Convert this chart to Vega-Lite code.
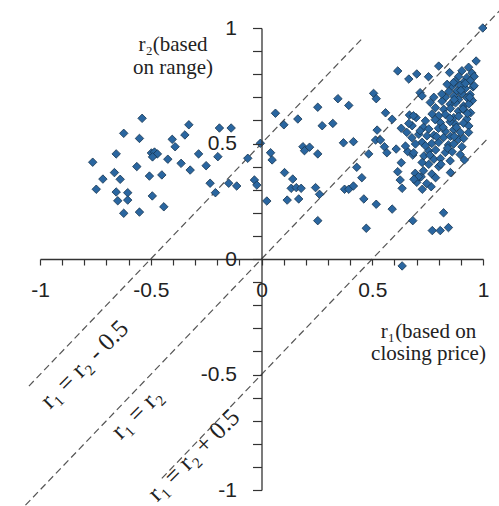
{
  "$schema": "https://vega.github.io/schema/vega-lite/v6.json",
  "width": 443,
  "height": 462,
  "autosize": {"type": "none"},
  "padding": {"left": 40, "top": 28, "right": 16, "bottom": 16},
  "background": "white",
  "config": {"view": {"stroke": null}, "axis": {"grid": false, "labelOverlap": false, "labelFlush": false, "labelBound": false}},
  "resolve": {"scale": {"x": "independent", "y": "independent"}, "axis": {"x": "independent", "y": "independent"}},
  "datasets": {
    "lines": [
      {"x1": -1.1, "y1": -1.1, "x2": 1.08, "y2": 1.08},
      {"x1": -1.05, "y1": -0.55, "x2": 0.45, "y2": 0.95},
      {"x1": -0.45, "y1": -0.95, "x2": 1.02, "y2": 0.52}
    ],
    "labels": [
      {"lx": -0.8, "ly": -0.455, "txt": "r₁ = r₂ - 0.5"},
      {"lx": -0.564, "ly": -0.667, "txt": "r₁ = r₂"},
      {"lx": -0.307, "ly": -0.848, "txt": "r₁ = r₂ + 0.5"}
    ],
    "points": [
      {"r1": -0.539, "r2": 0.609}, {"r1": -0.622, "r2": 0.544}, {"r1": -0.551, "r2": 0.522}, {"r1": -0.328, "r2": 0.581},
      {"r1": -0.346, "r2": 0.537}, {"r1": -0.403, "r2": 0.518}, {"r1": -0.39, "r2": 0.486}, {"r1": -0.19, "r2": 0.567},
      {"r1": -0.137, "r2": 0.567}, {"r1": -0.656, "r2": 0.455}, {"r1": -0.497, "r2": 0.459}, {"r1": -0.483, "r2": 0.463},
      {"r1": -0.47, "r2": 0.455}, {"r1": -0.492, "r2": 0.442}, {"r1": -0.423, "r2": 0.432}, {"r1": -0.363, "r2": 0.414},
      {"r1": -0.284, "r2": 0.455}, {"r1": -0.197, "r2": 0.443}, {"r1": -0.25, "r2": 0.404}, {"r1": -0.322, "r2": 0.385},
      {"r1": -0.062, "r2": 0.436}, {"r1": -0.762, "r2": 0.419}, {"r1": -0.563, "r2": 0.4}, {"r1": -0.664, "r2": 0.374},
      {"r1": -0.716, "r2": 0.346}, {"r1": -0.638, "r2": 0.345}, {"r1": -0.506, "r2": 0.359}, {"r1": -0.45, "r2": 0.364},
      {"r1": -0.746, "r2": 0.302}, {"r1": -0.656, "r2": 0.29}, {"r1": -0.604, "r2": 0.287}, {"r1": -0.649, "r2": 0.252},
      {"r1": -0.604, "r2": 0.255}, {"r1": -0.493, "r2": 0.273}, {"r1": -0.232, "r2": 0.328}, {"r1": -0.148, "r2": 0.328},
      {"r1": -0.112, "r2": 0.316}, {"r1": -0.208, "r2": 0.287}, {"r1": -0.441, "r2": 0.226}, {"r1": -0.622, "r2": 0.198},
      {"r1": -0.551, "r2": 0.203},
      {"r1": 0.999, "r2": 1.0}, {"r1": 0.969, "r2": 0.857}, {"r1": 0.8, "r2": 0.835}, {"r1": 0.615, "r2": 0.814},
      {"r1": 0.701, "r2": 0.801}, {"r1": 0.665, "r2": 0.779}, {"r1": 0.754, "r2": 0.789}, {"r1": 0.849, "r2": 0.807},
      {"r1": 0.345, "r2": 0.694}, {"r1": 0.506, "r2": 0.717}, {"r1": 0.518, "r2": 0.694}, {"r1": 0.254, "r2": 0.657},
      {"r1": 0.394, "r2": 0.665}, {"r1": 0.063, "r2": 0.631}, {"r1": 0.164, "r2": 0.606}, {"r1": 0.101, "r2": 0.581},
      {"r1": 0.274, "r2": 0.577}, {"r1": 0.322, "r2": 0.587}, {"r1": 0.56, "r2": 0.633}, {"r1": 0.59, "r2": 0.605},
      {"r1": -0.005, "r2": 0.501}, {"r1": 0.187, "r2": 0.486}, {"r1": 0.217, "r2": 0.484}, {"r1": 0.194, "r2": 0.469},
      {"r1": 0.254, "r2": 0.455}, {"r1": 0.37, "r2": 0.503}, {"r1": 0.415, "r2": 0.508}, {"r1": 0.041, "r2": 0.46},
      {"r1": 0.048, "r2": 0.429}, {"r1": -0.032, "r2": 0.342}, {"r1": -0.021, "r2": 0.32}, {"r1": 0.104, "r2": 0.374},
      {"r1": 0.141, "r2": 0.346}, {"r1": 0.134, "r2": 0.306}, {"r1": 0.157, "r2": 0.309}, {"r1": 0.179, "r2": 0.306},
      {"r1": 0.024, "r2": 0.251}, {"r1": 0.116, "r2": 0.255}, {"r1": 0.168, "r2": 0.26}, {"r1": 0.244, "r2": 0.309},
      {"r1": 0.262, "r2": 0.28}, {"r1": 0.254, "r2": 0.166}, {"r1": 0.375, "r2": 0.302}, {"r1": 0.394, "r2": 0.302},
      {"r1": 0.415, "r2": 0.316}, {"r1": 0.43, "r2": 0.397}, {"r1": 0.453, "r2": 0.352}, {"r1": 0.484, "r2": 0.455},
      {"r1": 0.462, "r2": 0.26}, {"r1": 0.518, "r2": 0.237}, {"r1": 0.59, "r2": 0.216}, {"r1": 0.473, "r2": 0.133},
      {"r1": 0.683, "r2": 0.166}, {"r1": 0.771, "r2": 0.123}, {"r1": 0.807, "r2": 0.123}, {"r1": 0.844, "r2": 0.136},
      {"r1": 0.822, "r2": 0.2}, {"r1": 0.853, "r2": 0.374}, {"r1": 0.916, "r2": 0.429}, {"r1": 0.522, "r2": 0.558},
      {"r1": 0.515, "r2": 0.515}, {"r1": 0.537, "r2": 0.515}, {"r1": 0.555, "r2": 0.486}, {"r1": 0.566, "r2": 0.46},
      {"r1": 0.608, "r2": 0.476}, {"r1": 0.631, "r2": 0.566}, {"r1": 0.668, "r2": 0.623}, {"r1": 0.631, "r2": 0.417},
      {"r1": 0.615, "r2": 0.378}, {"r1": 0.626, "r2": 0.342}, {"r1": 0.635, "r2": 0.306}, {"r1": 0.694, "r2": 0.371},
      {"r1": 0.698, "r2": 0.342}, {"r1": 0.721, "r2": 0.356}, {"r1": 0.726, "r2": 0.302}, {"r1": 0.766, "r2": 0.313},
      {"r1": 0.66, "r2": 0.465}, {"r1": 0.683, "r2": 0.45}, {"r1": 0.635, "r2": -0.03},
      {"r1": 0.935, "r2": 0.83}, {"r1": 0.905, "r2": 0.815}, {"r1": 0.95, "r2": 0.805}, {"r1": 0.89, "r2": 0.79},
      {"r1": 0.927, "r2": 0.785}, {"r1": 0.96, "r2": 0.79}, {"r1": 0.875, "r2": 0.77}, {"r1": 0.912, "r2": 0.765},
      {"r1": 0.942, "r2": 0.772}, {"r1": 0.86, "r2": 0.748}, {"r1": 0.897, "r2": 0.752}, {"r1": 0.92, "r2": 0.738},
      {"r1": 0.955, "r2": 0.745}, {"r1": 0.846, "r2": 0.725}, {"r1": 0.883, "r2": 0.728}, {"r1": 0.905, "r2": 0.715},
      {"r1": 0.942, "r2": 0.712}, {"r1": 0.83, "r2": 0.7}, {"r1": 0.868, "r2": 0.705}, {"r1": 0.89, "r2": 0.69},
      {"r1": 0.928, "r2": 0.698}, {"r1": 0.952, "r2": 0.686}, {"r1": 0.815, "r2": 0.683}, {"r1": 0.852, "r2": 0.67},
      {"r1": 0.876, "r2": 0.676}, {"r1": 0.912, "r2": 0.662}, {"r1": 0.936, "r2": 0.671}, {"r1": 0.785, "r2": 0.655},
      {"r1": 0.823, "r2": 0.648}, {"r1": 0.853, "r2": 0.652}, {"r1": 0.889, "r2": 0.64}, {"r1": 0.913, "r2": 0.646},
      {"r1": 0.944, "r2": 0.633}, {"r1": 0.77, "r2": 0.628}, {"r1": 0.8, "r2": 0.62}, {"r1": 0.83, "r2": 0.626},
      {"r1": 0.868, "r2": 0.612}, {"r1": 0.89, "r2": 0.618}, {"r1": 0.927, "r2": 0.606}, {"r1": 0.74, "r2": 0.598},
      {"r1": 0.784, "r2": 0.603}, {"r1": 0.808, "r2": 0.59}, {"r1": 0.852, "r2": 0.594}, {"r1": 0.876, "r2": 0.583},
      {"r1": 0.912, "r2": 0.588}, {"r1": 0.936, "r2": 0.576}, {"r1": 0.731, "r2": 0.57}, {"r1": 0.755, "r2": 0.563},
      {"r1": 0.799, "r2": 0.566}, {"r1": 0.83, "r2": 0.553}, {"r1": 0.868, "r2": 0.56}, {"r1": 0.898, "r2": 0.548},
      {"r1": 0.935, "r2": 0.548}, {"r1": 0.71, "r2": 0.54}, {"r1": 0.747, "r2": 0.533}, {"r1": 0.778, "r2": 0.536},
      {"r1": 0.822, "r2": 0.526}, {"r1": 0.853, "r2": 0.531}, {"r1": 0.889, "r2": 0.518}, {"r1": 0.913, "r2": 0.522},
      {"r1": 0.725, "r2": 0.505}, {"r1": 0.769, "r2": 0.5}, {"r1": 0.8, "r2": 0.505}, {"r1": 0.844, "r2": 0.494},
      {"r1": 0.868, "r2": 0.498}, {"r1": 0.905, "r2": 0.486}, {"r1": 0.755, "r2": 0.468}, {"r1": 0.786, "r2": 0.472},
      {"r1": 0.83, "r2": 0.461}, {"r1": 0.861, "r2": 0.464}, {"r1": 0.897, "r2": 0.452}, {"r1": 0.733, "r2": 0.446},
      {"r1": 0.778, "r2": 0.432}, {"r1": 0.808, "r2": 0.435}, {"r1": 0.852, "r2": 0.425}, {"r1": 0.755, "r2": 0.41},
      {"r1": 0.8, "r2": 0.4}, {"r1": 0.725, "r2": 0.418}, {"r1": 0.769, "r2": 0.368}, {"r1": 0.786, "r2": 0.352},
      {"r1": 0.701, "r2": 0.332}, {"r1": 0.746, "r2": 0.327}, {"r1": 0.716, "r2": 0.555}, {"r1": 0.68, "r2": 0.577},
      {"r1": 0.698, "r2": 0.612}, {"r1": 0.716, "r2": 0.72}, {"r1": 0.725, "r2": 0.706}, {"r1": 0.762, "r2": 0.678},
      {"r1": 0.778, "r2": 0.7}, {"r1": 0.814, "r2": 0.714}, {"r1": 0.838, "r2": 0.756}, {"r1": 0.867, "r2": 0.764},
      {"r1": 0.686, "r2": 0.62}, {"r1": 0.665, "r2": 0.587}, {"r1": 0.656, "r2": 0.548}, {"r1": 0.679, "r2": 0.525},
      {"r1": 0.695, "r2": 0.498}, {"r1": 0.65, "r2": 0.489}, {"r1": 0.687, "r2": 0.46}, {"r1": 0.731, "r2": 0.382},
      {"r1": 0.709, "r2": 0.357}, {"r1": 0.688, "r2": 0.345},
      {"r1": 0.92, "r2": 0.76}, {"r1": 0.9, "r2": 0.73}, {"r1": 0.94, "r2": 0.7}, {"r1": 0.87, "r2": 0.69},
      {"r1": 0.91, "r2": 0.65}, {"r1": 0.85, "r2": 0.61}, {"r1": 0.88, "r2": 0.57}, {"r1": 0.82, "r2": 0.57},
      {"r1": 0.79, "r2": 0.53}, {"r1": 0.84, "r2": 0.48}, {"r1": 0.76, "r2": 0.45}, {"r1": 0.81, "r2": 0.41},
      {"r1": 0.93, "r2": 0.63}, {"r1": 0.96, "r2": 0.75}, {"r1": 0.87, "r2": 0.53}, {"r1": 0.74, "r2": 0.49}
    ]
  },
  "layer": [
    {
      "data": {"name": "lines"},
      "mark": {"type": "rule", "strokeDash": [7, 4], "color": "#555555", "strokeWidth": 1.2},
      "encoding": {
        "x": {
          "field": "x1", "type": "quantitative",
          "scale": {"domain": [-1, 1], "nice": false, "zero": false},
          "axis": {
            "orient": "bottom", "offset": -231, "zindex": 1,
            "values": [-1, -0.9, -0.8, -0.7, -0.6, -0.5, -0.4, -0.3, -0.2, -0.1, 0, 0.1, 0.2, 0.3, 0.4, 0.5, 0.6, 0.7, 0.8, 0.9, 1],
            "labels": false,
            "tickSize": 6, "tickColor": "#333333", "tickWidth": 1.2,
            "domainColor": "#333333", "domainWidth": 1.3,
            "title": ["r₁(based on", "closing price)"],
            "titleFont": "Liberation Serif", "titleFontSize": 21, "titleFontWeight": "normal", "titleColor": "#222222",
            "titleAnchor": null, "titleAlign": "center", "titleBaseline": "alphabetic",
            "titleX": 388, "titleY": 78, "titleLineHeight": 22
          }
        },
        "y": {
          "field": "y1", "type": "quantitative",
          "scale": {"domain": [-1, 1], "nice": false, "zero": false},
          "axis": {
            "orient": "left", "offset": -221.5, "zindex": 1,
            "values": [-1, -0.9, -0.8, -0.7, -0.6, -0.5, -0.4, -0.3, -0.2, -0.1, 0, 0.1, 0.2, 0.3, 0.4, 0.5, 0.6, 0.7, 0.8, 0.9, 1],
            "labels": false,
            "tickSize": 9, "tickColor": "#333333", "tickWidth": 1.2,
            "domainColor": "#333333", "domainWidth": 1.3,
            "title": ["r₂(based", "on range)"],
            "titleFont": "Liberation Serif", "titleFontSize": 21, "titleFontWeight": "normal", "titleColor": "#222222",
            "titleAngle": 0, "titleAnchor": null, "titleAlign": "center", "titleBaseline": "alphabetic",
            "titleX": -89, "titleY": 22, "titleLineHeight": 23
          }
        },
        "x2": {"field": "x2"},
        "y2": {"field": "y2"}
      }
    },
    {
      "data": {"name": "points"},
      "mark": {"type": "point", "shape": "diamond", "filled": true, "size": 72, "fill": "#2a66a0", "stroke": "#17354f", "strokeWidth": 0.8, "opacity": 1},
      "encoding": {
        "x": {
          "field": "r1", "type": "quantitative",
          "scale": {"domain": [-1, 1], "nice": false, "zero": false},
          "axis": {
            "orient": "top", "offset": -231, "zindex": 1,
            "values": [-1, -0.5, 0, 0.5, 1],
            "labelExpr": "datum.value == -1 ? '-1' : datum.value == -0.5 ? '-0.5' : datum.value == 0 ? '0' : datum.value == 0.5 ? '0.5' : '1'",
            "ticks": false, "tickSize": 0, "domain": false, "title": null,
            "labelFont": "Liberation Sans", "labelFontSize": 21, "labelColor": "#222222",
            "labelBaseline": "top", "labelPadding": -20, "labelAlign": "center",
            "labelFlush": false, "labelOverlap": false, "labelBound": false
          }
        },
        "y": {
          "field": "r2", "type": "quantitative",
          "scale": {"domain": [-1, 1], "nice": false, "zero": false},
          "axis": {
            "orient": "right", "offset": -221.5, "zindex": 1,
            "values": [-1, -0.5, 0, 0.5, 1],
            "labelExpr": "datum.value == -1 ? '-1' : datum.value == -0.5 ? '-0.5' : datum.value == 0 ? '0' : datum.value == 0.5 ? '0.5' : '1'",
            "ticks": false, "tickSize": 0, "domain": false, "title": null,
            "labelFont": "Liberation Sans", "labelFontSize": 21, "labelColor": "#222222",
            "labelAlign": "right", "labelBaseline": "middle", "labelPadding": -25,
            "labelFlush": false, "labelOverlap": false, "labelBound": false
          }
        }
      }
    },
    {
      "data": {"name": "labels"},
      "mark": {"type": "text", "angle": 315, "font": "Liberation Serif", "fontSize": 25, "color": "#222222", "align": "center", "baseline": "middle"},
      "encoding": {
        "x": {"field": "lx", "type": "quantitative", "scale": {"domain": [-1, 1], "nice": false, "zero": false}, "axis": null},
        "y": {"field": "ly", "type": "quantitative", "scale": {"domain": [-1, 1], "nice": false, "zero": false}, "axis": null},
        "text": {"field": "txt"}
      }
    }
  ]
}
